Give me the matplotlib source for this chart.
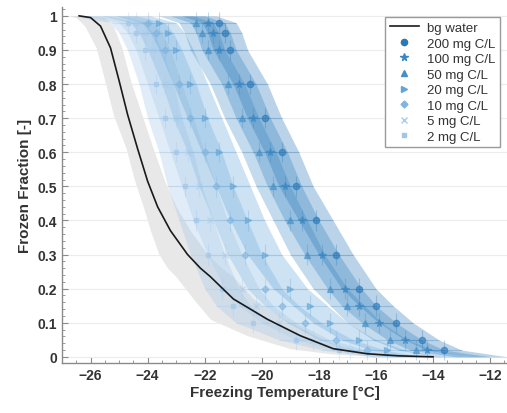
import matplotlib
matplotlib.use("Agg")
import matplotlib.pyplot as plt
import numpy as np
from matplotlib.ticker import MultipleLocator

#------------------------------------------------------------ data ------------------------------------------------------------#
# frozen fraction levels at which the temperatures were read off
levels = [1.0, 0.98, 0.95, 0.9, 0.8, 0.7, 0.6, 0.5, 0.4, 0.3, 0.2, 0.15, 0.1, 0.05, 0.02, 0.0]

T_200 = [-22.2, -21.5, -21.3, -21.1, -20.4, -19.9, -19.3, -18.8, -18.1, -17.4, -16.6, -16.0, -15.3, -14.4, -13.6, -12.0]
T_100 = [-22.6, -21.9, -21.7, -21.5, -20.8, -20.3, -19.7, -19.2, -18.6, -17.9, -17.1, -16.6, -15.9, -15.0, -14.2, -12.6]
T_50 = [-23.0, -22.3, -22.1, -21.9, -21.2, -20.7, -20.1, -19.6, -19.0, -18.4, -17.6, -17.0, -16.4, -15.5, -14.6, -13.2]
T_20 = [-24.5, -23.6, -23.3, -23.0, -22.5, -22.0, -21.5, -21.0, -20.5, -19.9, -19.0, -18.3, -17.6, -16.6, -15.6, -14.3]
T_10 = [-25.0, -24.0, -23.7, -23.4, -22.9, -22.5, -22.0, -21.6, -21.1, -20.6, -19.9, -19.3, -18.5, -17.4, -16.3, -15.0]
T_5 = [-25.6, -24.4, -24.1, -23.8, -23.4, -23.0, -22.6, -22.2, -21.8, -21.3, -20.7, -20.2, -19.4, -18.2, -16.9, -15.5]
T_2 = [-26.1, -24.7, -24.4, -24.1, -23.7, -23.4, -23.0, -22.7, -22.3, -21.9, -21.4, -21.0, -20.3, -18.8, -17.3, -15.5]

labels = ["200 mg C/L", "100 mg C/L", "50 mg C/L", "20 mg C/L", "10 mg C/L", "5 mg C/L", "2 mg C/L"]

# background water
bg_T = [-26.4, -26.0, -25.65, -25.3, -25.0, -24.7, -24.35, -24.0, -23.65, -23.2, -22.6, -22.15, -21.8, -21.0, -19.8, -18.65, -17.5, -16.3, -15.2, -14.0]
bg_FF = [1.0, 0.995, 0.97, 0.906, 0.81, 0.71, 0.61, 0.515, 0.44, 0.37, 0.30, 0.26, 0.235, 0.17, 0.11, 0.062, 0.024, 0.009, 0.003, 0.0]
bg_lo = [-26.8, -26.5, -26.2, -25.8, -25.5, -25.2, -24.75, -24.45, -24.15, -23.9, -23.6, -23.3, -23.0, -22.4, -21.8, -20.5, -19.0, -17.6, -16.3, -15.0]
bg_hi = [-25.8, -25.5, -25.2, -24.9, -24.6, -24.2, -23.8, -23.4, -23.0, -22.5, -21.9, -21.4, -21.0, -20.3, -19.2, -18.1, -17.0, -15.9, -14.8, -13.5]

#------------------------------------------------------------ style ------------------------------------------------------------#
colors = ['#2a78b8', '#3a86c2', '#4690c8', '#64a5d8', '#7fb5e0', '#a8cbe8', '#a0c6e8']
markers = ['o', '*', '^', '>', 'D', 'x', 's']
msizes = [4.5, 5.5, 4.5, 4.5, 3.5, 4.5, 3.5]
dT = 0.6

plt.rcParams['font.family'] = ['Liberation Sans', 'DejaVu Sans']
txt = '#333333'

fig = plt.figure(figsize=(5.07, 4.14), dpi=100)
ax = fig.add_axes([62/507, 50/414, 445/507, 356/414])

ax.fill_betweenx(bg_FF, bg_lo, bg_hi, color='#e8e8e8', lw=0, zorder=1)

series = [T_200, T_100, T_50, T_20, T_10, T_5, T_2]
# light ones first, dark ones on top
for i in range(len(series) - 1, -1, -1):
    T = np.array(series[i])
    ax.fill_betweenx(levels, T - dT, T + dT, color=colors[i], alpha=0.32, lw=0, zorder=2)
    ax.errorbar(T[1:-1], levels[1:-1], xerr=dT, yerr=0.03, fmt='none',
                ecolor=colors[i], elinewidth=0.8, alpha=0.3, zorder=3)

ax.plot(bg_T, bg_FF, color='#1a1a1a', lw=1.2, zorder=5, label='bg water')

for i in range(len(series)):
    T = series[i]
    ax.plot(T[1:-1], levels[1:-1], ls='none', marker=markers[i], ms=msizes[i],
            color=colors[i], mew=1.0, alpha=0.6, zorder=4, label=labels[i])

ax.set_xlim(-27, -11.41)
ax.set_ylim(-0.018, 1.026)
ax.xaxis.set_major_locator(MultipleLocator(2))
ax.xaxis.set_minor_locator(MultipleLocator(0.5))
ax.yaxis.set_minor_locator(MultipleLocator(0.02))
ax.set_yticks(np.arange(0, 1.01, 0.1))
ax.set_yticklabels(['0', '0.1', '0.2', '0.3', '0.4', '0.5', '0.6', '0.7', '0.8', '0.9', '1'])
ax.yaxis.grid(True, color='#ececec', lw=0.8, zorder=0)
ax.set_axisbelow(True)

for s in ['top', 'right']:
    ax.spines[s].set_visible(False)
for s in ['left', 'bottom']:
    ax.spines[s].set_color('#8a8a8a')
    ax.spines[s].set_linewidth(1.0)
ax.tick_params(which='both', direction='in', colors='#8a8a8a', labelcolor=txt)
ax.tick_params(which='major', length=4, labelsize=10)
ax.tick_params(which='minor', length=2)
for lb in ax.get_xticklabels() + ax.get_yticklabels():
    lb.set_fontweight('bold')

ax.set_xlabel('Freezing Temperature [°C]', fontsize=11, fontweight='bold', color=txt, labelpad=2)
ax.set_ylabel('Frozen Fraction [-]', fontsize=11, fontweight='bold', color=txt, labelpad=4)

leg = ax.legend(loc='upper right', bbox_to_anchor=(0.998, 0.99), fontsize=9.5, frameon=True,
                fancybox=False, edgecolor='#9a9a9a', framealpha=1, handlelength=2.2,
                borderpad=0.35, labelspacing=0.25, handletextpad=0.6)
for t in leg.get_texts():
    t.set_color(txt)
for h in leg.legend_handles[1:]:
    h.set_alpha(1)

plt.savefig('out.png', dpi=100)
